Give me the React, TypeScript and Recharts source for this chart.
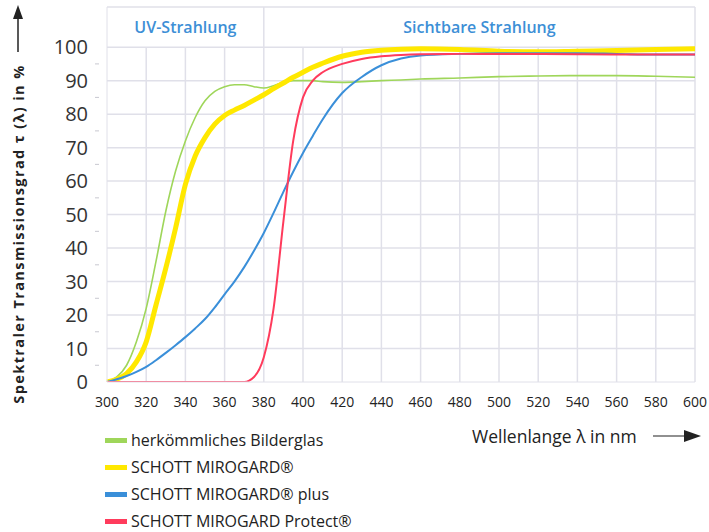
import { LineChart, Line, XAxis, YAxis, ReferenceLine, ReferenceArea } from 'recharts'

// wavelength samples in nm
const wavelengths = [
  300, 305, 310, 315, 320, 325, 330, 335, 340, 345, 350, 355, 360, 365, 370, 375, 380, 385, 390, 395,
  400, 405, 410, 420, 430, 440, 450, 460, 480, 500, 520, 540, 560, 580, 600,
]

// transmission in %
const bilderglas = [
  0, 1.5, 5, 12, 22, 36, 51, 63, 72, 79, 84, 86.8, 88.2, 88.8, 88.8, 88.2, 87.8, 88.5, 89.5, 90,
  90, 90, 89.7, 89.5, 89.7, 90, 90.2, 90.5, 90.8, 91.2, 91.4, 91.5, 91.5, 91.3, 91,
]
const mirogard = [
  0, 0.8, 2.5, 6, 12, 23, 34, 46, 59, 67.5, 73, 77, 79.6, 81.2, 82.6, 84.2, 85.8, 87.6, 89.3, 91,
  92.5, 94, 95.2, 97.3, 98.5, 99.1, 99.4, 99.5, 99.3, 98.8, 98.6, 98.8, 99, 99.3, 99.5,
]
const mirogardPlus = [
  0, 0.8, 1.8, 3, 4.5, 6.5, 8.7, 11, 13.4, 16, 18.8, 22.3, 26.2, 30, 34.3, 39.2, 44.5, 50.5, 56.8, 62.8,
  68.4, 73.5, 78.4, 86.3, 91.1, 94.6, 96.6, 97.5, 98, 98.2, 98.2, 98.2, 98, 97.8, 97.8,
]
const mirogardProtect = [
  0, 0, 0, 0, 0, 0, 0, 0, 0, 0, 0, 0, 0, 0, 0, 1.5, 7.4, 22, 48, 72,
  85, 90, 92.5, 95, 96.5, 97.3, 97.7, 97.9, 98, 98, 98, 97.9, 97.8, 97.8, 97.8,
]

const seriesNames = [
  'herkömmliches Bilderglas',
  'SCHOTT MIROGARD®',
  'SCHOTT MIROGARD® plus',
  'SCHOTT MIROGARD Protect®',
]
const seriesColors = ['#9fd65a', '#ffe800', '#3a8fd9', '#ff3b5c']

const xTicks = [300, 320, 340, 360, 380, 400, 420, 440, 460, 480, 500, 520, 540, 560, 580, 600]
const yTicks = [0, 5, 10, 15, 20, 25, 30, 35, 40, 45, 50, 55, 60, 65, 70, 75, 80, 85, 90, 95, 100]
const yGrid = [10, 20, 30, 40, 50, 60, 70, 80, 90, 100]

const data = wavelengths.map((nm, i) => ({
  nm,
  glas: bilderglas[i],
  miro: mirogard[i],
  plus: mirogardPlus[i],
  protect: mirogardProtect[i],
}))

const FONT = '"Open Sans", "Noto Sans", sans-serif'
const GRID = '#e0e0e9'

function YTick({ x, y, payload }: any) {
  const v = payload.value
  if (v % 10 !== 0) {
    return <line x1={x - 4} x2={x} y1={y} y2={y} stroke="#c8c8d0" />
  }
  return (
    <text x={x - 11} y={y} dy={7} textAnchor="end" fontSize={20} fill="#333" fontFamily={FONT}>
      {v}
    </text>
  )
}

function XTick({ x, y, payload }: any) {
  return (
    <text x={x} y={y} dy={17} textAnchor="middle" fontSize={14} fill="#222" fontFamily={FONT}>
      {payload.value}
    </text>
  )
}

export default function App() {
  return (
    <div style={{ position: 'absolute', left: 0, top: 0, width: 709, height: 532, background: '#fff' }}>
      <LineChart
        width={709}
        height={532}
        data={data}
        margin={{ top: 7, right: 14, left: 47, bottom: 120 }}
      >
        <XAxis
          dataKey="nm"
          type="number"
          domain={[300, 600]}
          ticks={xTicks}
          interval={0}
          tick={<XTick />}
          tickLine={false}
          axisLine={{ stroke: GRID }}
          height={30}
        />
        <YAxis
          type="number"
          domain={[0, 112]}
          allowDataOverflow
          ticks={yTicks}
          interval={0}
          tick={<YTick />}
          tickLine={false}
          axisLine={{ stroke: GRID }}
          width={60}
        />
        {yGrid.map((v) => (
          <ReferenceLine key={'h' + v} y={v} stroke={GRID} strokeWidth={1.5} />
        ))}
        <ReferenceLine y={112} stroke={GRID} strokeWidth={1.5} />
        {xTicks.slice(1, -1).map((v) =>
          v === 380 ? (
            <ReferenceLine key={'v' + v} x={v} stroke={GRID} strokeWidth={1.5} />
          ) : (
            <ReferenceLine
              key={'v' + v}
              segment={[
                { x: v, y: 0 },
                { x: v, y: 100 },
              ]}
              stroke={GRID}
              strokeWidth={1.5}
            />
          )
        )}
        <ReferenceLine x={600} stroke={GRID} strokeWidth={1.5} />
        <ReferenceArea
          x1={300}
          x2={380}
          y1={100}
          y2={112}
          fillOpacity={0}
          label={{ value: 'UV-Strahlung', position: 'center', fill: '#3d8fd6', fontSize: 16, fontWeight: 600, fontFamily: FONT }}
        />
        <ReferenceArea
          x1={380}
          x2={600}
          y1={100}
          y2={112}
          fillOpacity={0}
          label={{ value: 'Sichtbare Strahlung', position: 'center', fill: '#3d8fd6', fontSize: 16, fontWeight: 600, fontFamily: FONT }}
        />
        <Line dataKey="glas" type="monotone" stroke={seriesColors[0]} strokeWidth={1.6} dot={false} isAnimationActive={false} />
        <Line dataKey="miro" type="monotone" stroke={seriesColors[1]} strokeWidth={5} dot={false} isAnimationActive={false} />
        <Line dataKey="plus" type="monotone" stroke={seriesColors[2]} strokeWidth={2} dot={false} isAnimationActive={false} />
        <Line dataKey="protect" type="monotone" stroke={seriesColors[3]} strokeWidth={2} dot={false} isAnimationActive={false} />
      </LineChart>

      <svg
        width={709}
        height={532}
        style={{ position: 'absolute', left: 0, top: 0, pointerEvents: 'none' }}
      >
        {/* y axis title with arrow */}
        <text
          transform="translate(24 234) rotate(-90)"
          textAnchor="middle"
          fontSize={14.5}
          fontWeight="bold"
          letterSpacing={1.4}
          fill="#222"
          fontFamily={FONT}
        >
          Spektraler Transmissionsgrad τ (λ) in %
        </text>
        <line x1={18} x2={18} y1={52} y2={16} stroke="#222" strokeWidth={1.5} />
        <polygon points="18,5 13,19 23,19" fill="#222" />

        {/* legend */}
        {seriesNames.map((name, i) => (
          <g key={name}>
            <rect x={105} y={438 + i * 27} width={22} height={5} fill={seriesColors[i]} />
            <text x={131} y={446 + i * 27} fontSize={16} fill="#222" fontFamily={FONT}>
              {name}
            </text>
          </g>
        ))}

        {/* x axis title with arrow */}
        <text x={472} y={443} fontSize={17.5} fill="#222" fontFamily={FONT}>
          Wellenlange λ in nm
        </text>
        <line x1={653} x2={688} y1={436} y2={436} stroke="#222" strokeWidth={1.2} />
        <polygon points="701,436 684,430 684,442" fill="#222" />
      </svg>
    </div>
  )
}
